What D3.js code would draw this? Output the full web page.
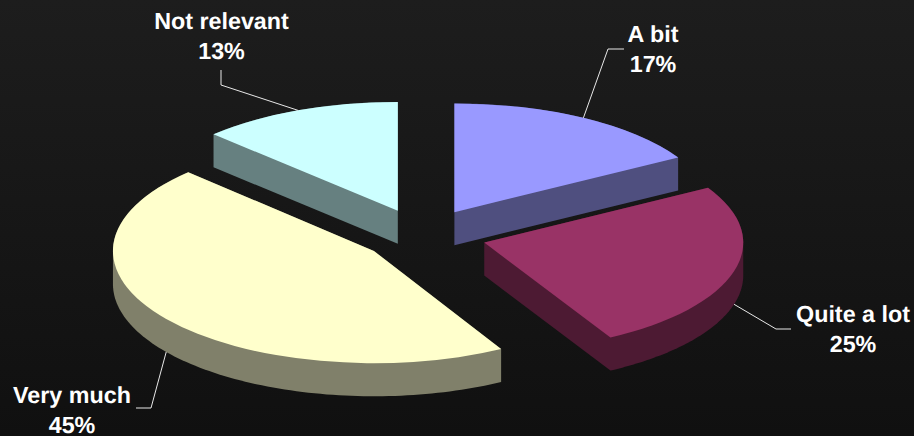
<!DOCTYPE html>
<html>
<head>
<meta charset="utf-8">
<script src="https://cdn.jsdelivr.net/npm/d3@7/dist/d3.min.js"></script>
<style>
html,body{margin:0;padding:0;background:#151515;overflow:hidden}
svg{display:block}
text{font-family:"Liberation Sans",Arial,sans-serif;font-weight:bold;font-size:23.3px;fill:#fff;text-anchor:middle;text-rendering:geometricPrecision}
</style>
</head>
<body>
<script>
const categories = ["A bit", "Quite a lot", "Very much", "Not relevant"];
const values = [16.6, 25.3, 45.5, 12.6];
const percentLabels = ["17%", "25%", "45%", "13%"];
const explosions = [64, 64, 61, 64];
const radii = [259, 259, 261, 259];
const tilts = [0.42, 0.42, 0.43, 0.42];
const topColors = ["#9999ff", "#993366", "#ffffcc", "#ccffff"];
const sideColors = ["#4f4f7f", "#4d1a33", "#80806a", "#668080"];
const labelX = [653, 853, 72, 221.5];
const labelY = [42, 322, 403, 29];
const elbows = [[608, 49, 624, 49], [776, 329, 791, 329], [151, 408, 136, 408], [221, 85, 221, 70]];
const onWall = [false, true, true, false];

const W = 914, H = 436, cx = 422.5, cy = 235.5, baseTilt = 0.42, depth = 33;

const svg = d3.select("body").append("svg").attr("width", W).attr("height", H);
const grad = svg.append("defs").append("linearGradient").attr("id", "bg")
  .attr("x1", 0).attr("y1", 0).attr("x2", 0).attr("y2", 1);
grad.append("stop").attr("offset", 0).attr("stop-color", "#1d1d1d");
grad.append("stop").attr("offset", 1).attr("stop-color", "#101010");
svg.append("rect").attr("width", W).attr("height", H).attr("fill", "url(#bg)");

const pie = d3.pie().sort(null)(values);

const slices = pie.map((p, i) => {
  const mid = (p.startAngle + p.endAngle) / 2;
  const ax = cx + explosions[i] * Math.sin(mid);
  const ay = cy - explosions[i] * Math.cos(mid) * baseTilt;
  return {p, i, mid, ax, ay, rx: radii[i], tilt: tilts[i]};
});

function wallPath(s) {
  const n = 120;
  const pts = [[s.ax, s.ay], [s.ax, s.ay + depth]];
  d3.range(n + 1).forEach(k => {
    const a = s.p.startAngle + (s.p.endAngle - s.p.startAngle) * k / n;
    const x = s.ax + s.rx * Math.sin(a);
    const y = s.ay - s.rx * s.tilt * Math.cos(a);
    pts.push([x, y], [x, y + depth]);
  });
  return "M" + d3.polygonHull(pts).join("L") + "Z";
}

// draw back slices first
const order = [3, 0, 2, 1].map(i => slices[i]);
const g = svg.append("g");
order.forEach(s => {
  const sg = g.append("g");
  sg.append("path").attr("d", wallPath(s)).attr("fill", sideColors[s.i]);
  sg.append("path")
    .attr("transform", `translate(${s.ax},${s.ay}) scale(1,${s.tilt})`)
    .attr("d", d3.arc().innerRadius(0).outerRadius(s.rx)(s.p))
    .attr("fill", topColors[s.i]);
});

slices.forEach(s => {
  const x0 = s.ax + s.rx * Math.sin(s.mid);
  const y0 = s.ay - s.rx * s.tilt * Math.cos(s.mid) + (onWall[s.i] ? depth : 0);
  const e = elbows[s.i];
  svg.append("polyline")
    .attr("points", [x0, y0, e[0], e[1], e[2], e[3]].join(","))
    .attr("fill", "none").attr("stroke", "#e8e8e8").attr("stroke-width", 1);
  const t = svg.append("text").attr("x", labelX[s.i]).attr("y", labelY[s.i]);
  t.append("tspan").attr("x", labelX[s.i]).text(categories[s.i]);
  t.append("tspan").attr("x", labelX[s.i]).attr("dy", 29.5).text(percentLabels[s.i]);
});
</script>
</body>
</html>
